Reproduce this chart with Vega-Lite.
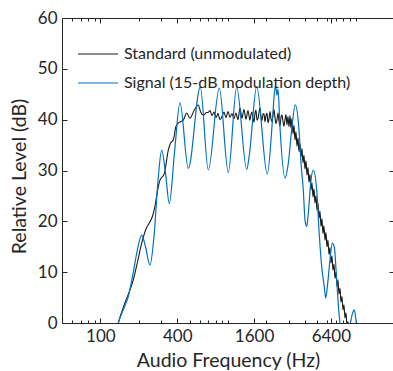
{
  "$schema": "https://vega.github.io/schema/vega-lite/v6.json",
  "width": 332,
  "height": 305,
  "autosize": {"type": "none"},
  "padding": {"left": 62, "top": 18, "right": 0, "bottom": 48},
  "background": "white",
  "config": {
    "font": "Lato",
    "view": {"stroke": null},
    "axis": {"grid": false, "domainColor": "#262626", "tickColor": "#262626", "labelColor": "#262626", "titleColor": "#262626", "labelFont": "Lato", "titleFont": "Lato", "labelFontSize": 17, "titleFontSize": 19.5, "titleFontWeight": "normal", "domainWidth": 1, "tickWidth": 1}
  },
  "datasets": {
    "standard": [
      {"f":134.9,"db":-1},{"f":138.1,"db":0},{"f":155.9,"db":4},{"f":181.1,"db":8.5},{"f":195.3,"db":12},{"f":210.7,"db":15.7},{"f":227.7,"db":18.5},{"f":244.7,"db":19.9},{"f":256,"db":21},{"f":267.8,"db":23},{"f":280.2,"db":26},{"f":293.1,"db":28.1},{"f":316.9,"db":29.4},{"f":340.4,"db":34},{"f":355,"db":35.4},{"f":372.6,"db":36},{"f":390,"db":38.6},{"f":407.7,"db":39.3},{"f":425,"db":39.6},{"f":446.3,"db":39.9},{"f":474.5,"db":41.3},{"f":503.6,"db":40.3},{"f":544.4,"db":41.9},{"f":585,"db":42.9},{"f":610,"db":41.5},{"f":640.3,"db":40.9},{"f":680.7,"db":41.4},
      {"f":697,"db":41.4},{"f":723,"db":41.8},{"f":749,"db":40.8},{"f":777,"db":41.5},{"f":805,"db":40.4},{"f":835,"db":41.2},{"f":865,"db":40.0},{"f":897,"db":40.6},{"f":930,"db":41.5},{"f":964,"db":40.4},{"f":1000,"db":41.6},{"f":1037,"db":40.5},{"f":1075,"db":41.2},{"f":1114,"db":40.2},{"f":1155,"db":41.3},{"f":1197,"db":40.0},{"f":1241,"db":42.3},{"f":1287,"db":40.3},{"f":1334,"db":42.0},{"f":1383,"db":40.1},{"f":1434,"db":41.8},{"f":1487,"db":39.9},{"f":1514,"db":41.0},{"f":1541,"db":41.5},{"f":1569,"db":40.3},{"f":1598,"db":39.5},{"f":1627,"db":41.2},{"f":1657,"db":41.9},{"f":1687,"db":39.9},{"f":1718,"db":40.2},{"f":1749,"db":41.4},{"f":1781,"db":42.3},{"f":1813,"db":40.6},{"f":1846,"db":39.8},{"f":1879,"db":41.0},{"f":1914,"db":41.2},{"f":1949,"db":39.6},{"f":1985,"db":40.8},{"f":2021,"db":41.3},{"f":2058,"db":39.4},{"f":2095,"db":40.1},{"f":2133,"db":41.6},{"f":2172,"db":40.2},{"f":2212,"db":39.6},{"f":2252,"db":41.0},{"f":2293,"db":42.0},{"f":2335,"db":40.4},{"f":2377,"db":39.2},{"f":2421,"db":40.0},{"f":2465,"db":41.3},{"f":2510,"db":39.7},{"f":2555,"db":38.8},{"f":2602,"db":40.5},{"f":2649,"db":40.9},{"f":2698,"db":39.6},{"f":2746,"db":38.7},{"f":2797,"db":40.0},
      {"f":2847,"db":41.0},{"f":2899,"db":39.0},{"f":2952,"db":40.6},{"f":3006,"db":38.6},{"f":3061,"db":40.8},{"f":3116,"db":38.3},{"f":3173,"db":40.2},{"f":3231,"db":37.2},{"f":3290,"db":38.9},{"f":3350,"db":36.0},{"f":3411,"db":37.6},{"f":3473,"db":34.8},{"f":3536,"db":36.4},{"f":3601,"db":33.7},{"f":3666,"db":35.3},{"f":3733,"db":32.7},{"f":3801,"db":34.3},{"f":3870,"db":31.5},{"f":3941,"db":33.0},{"f":4012,"db":30.3},{"f":4085,"db":31.9},{"f":4160,"db":29.1},{"f":4235,"db":30.6},{"f":4313,"db":27.7},{"f":4391,"db":29.2},{"f":4471,"db":26.2},{"f":4552,"db":27.6},{"f":4635,"db":24.8},{"f":4720,"db":26.4},{"f":4806,"db":23.6},{"f":4893,"db":25.0},{"f":4982,"db":22.2},{"f":5073,"db":23.6},{"f":5165,"db":20.6},{"f":5259,"db":22.0},{"f":5355,"db":19.0},{"f":5452,"db":20.5},{"f":5552,"db":17.6},{"f":5652,"db":19.1},{"f":5755,"db":16.3},{"f":5860,"db":17.8},{"f":5967,"db":15.0},{"f":6075,"db":16.3},{"f":6186,"db":13.5},{"f":6298,"db":14.8},{"f":6413,"db":11.8},{"f":6530,"db":13.2},{"f":6649,"db":10.4},{"f":6770,"db":11.6},{"f":6893,"db":8.8},{"f":7018,"db":10.0},{"f":7146,"db":7.2},{"f":7276,"db":8.5},{"f":7409,"db":5.7},{"f":7543,"db":6.9},{"f":7681,"db":4.1},{"f":7820,"db":5.2},{"f":7963,"db":2.6},{"f":8108,"db":3.6},{"f":8255,"db":1.0},{"f":8406,"db":2.0},{"f":8559,"db":-0.5},{"f":8714,"db":0.3},{"f":8873,"db":-2},{"f":9034,"db":-2}
    ],
    "signal": [
      {"f":134.9,"db":-1},{"f":138.1,"db":0},{"f":150.3,"db":2.5},{"f":165.4,"db":5.2},{"f":181.1,"db":10},{"f":195.3,"db":14.5},{"f":210.7,"db":17.3},{"f":225.6,"db":15},{"f":244.7,"db":11.4},{"f":263,"db":17},{"f":282.7,"db":28},{"f":302.2,"db":34},{"f":323.7,"db":29.5},{"f":346.7,"db":23.5},{"f":380.7,"db":33.5},{"f":420.6,"db":43.3},{"f":488.4,"db":30.4},{"f":606.4,"db":46.4},{"f":701,"db":30.1},{"f":854.5,"db":46.2},{"f":1005.5,"db":29.6},{"f":1169.5,"db":46.4},{"f":1401.5,"db":30.2},{"f":1468.5,"db":33},{"f":1678.5,"db":46.5},{"f":2031.5,"db":29.3},{"f":2232,"db":40},{"f":2314,"db":45.5},{"f":2364.5,"db":46.6},{"f":2421,"db":44.8},{"f":2465,"db":46},{"f":2555,"db":38.5},{"f":2797,"db":28.5},{"f":2968,"db":31.4},{"f":3155,"db":38},{"f":3366,"db":42.9},{"f":3600,"db":38},{"f":3732,"db":31.5},{"f":3891,"db":26.2},{"f":4012,"db":20.3},{"f":4138,"db":19},{"f":4260,"db":21.6},{"f":4471,"db":28.1},{"f":4660,"db":30.1},{"f":4955,"db":26.2},{"f":5165,"db":18.3},{"f":5424,"db":11.1},{"f":5684,"db":7.1},{"f":5830,"db":4.9},{"f":6043,"db":7.8},{"f":6298,"db":12.4},{"f":6565,"db":15.7},{"f":6806,"db":15},{"f":7106,"db":8.5},{"f":7408,"db":2},{"f":7584,"db":-0.4},{"f":8255,"db":-5},{"f":8950,"db":-1},{"f":9488,"db":2},{"f":9767,"db":2.6},{"f":10070,"db":0.6},{"f":10346,"db":-2}
    ]
  },
  "layer": [
    {
      "data": {"name": "standard"},
      "mark": {"type": "line", "interpolate": "monotone", "strokeWidth": 1.1, "clip": true},
      "encoding": {
        "x": {"field": "f", "type": "quantitative", "scale": {"type": "log", "domain": [50, 20000], "nice": false},
          "axis": {"orient": "bottom", "values": [100, 400, 1600, 6400], "format": "d", "tickSize": -5, "labelPadding": 10, "title": "Audio Frequency (Hz)", "titleX": 166, "titleY": 43, "titleBaseline": "alphabetic", "titleAnchor": null}},
        "y": {"field": "db", "type": "quantitative", "scale": {"domain": [0, 60], "nice": false},
          "axis": {"orient": "left", "values": [0, 10, 20, 30, 40, 50, 60], "tickSize": -5, "labelPadding": 10, "title": "Relative Level (dB)", "titleX": -33, "titleY": 158}},
        "color": {"datum": "Standard (unmodulated)", "type": "nominal",
          "scale": {"domain": ["Standard (unmodulated)", "Signal (15-dB modulation depth)"], "range": ["#1a1a1a", "#0072BD"]},
          "legend": {"orient": "none", "legendX": 15, "legendY": 15, "title": null, "symbolType": "stroke", "symbolSize": 1600, "symbolStrokeWidth": 1.2, "labelFont": "Lato", "labelFontSize": 16, "labelColor": "#262626", "labelLimit": 0, "padding": 0, "labelOffset": 5, "rowPadding": -18}}
      }
    },
    {
      "data": {"name": "signal"},
      "mark": {"type": "line", "interpolate": "monotone", "strokeWidth": 1.2, "clip": true},
      "encoding": {
        "x": {"field": "f", "type": "quantitative",
          "axis": {"orient": "top", "values": [100, 400, 1600, 6400], "tickSize": -5, "labels": false, "title": null}},
        "y": {"field": "db", "type": "quantitative",
          "axis": {"orient": "right", "values": [0, 10, 20, 30, 40, 50, 60], "tickSize": -5, "labels": false, "title": null}},
        "color": {"datum": "Signal (15-dB modulation depth)", "type": "nominal"}
      }
    },
    {
      "data": {"name": "signal"},
      "mark": {"type": "rule", "opacity": 0},
      "encoding": {
        "x": {"field": "f", "type": "quantitative",
          "axis": {"orient": "bottom", "values": [60, 70, 80, 90, 200, 300, 500, 600, 700, 800, 900, 1000, 2000, 3000, 4000, 5000, 6000, 7000, 8000, 9000, 10000], "tickSize": -3, "labels": false, "domain": false, "title": null}}
      }
    },
    {
      "data": {"name": "signal"},
      "mark": {"type": "rule", "opacity": 0},
      "encoding": {
        "x": {"field": "f", "type": "quantitative",
          "axis": {"orient": "top", "values": [60, 70, 80, 90, 200, 300, 500, 600, 700, 800, 900, 1000, 2000, 3000, 4000, 5000, 6000, 7000, 8000, 9000, 10000], "tickSize": -3, "labels": false, "domain": false, "title": null}}
      }
    }
  ],
  "resolve": {"axis": {"x": "independent", "y": "independent"}}
}
